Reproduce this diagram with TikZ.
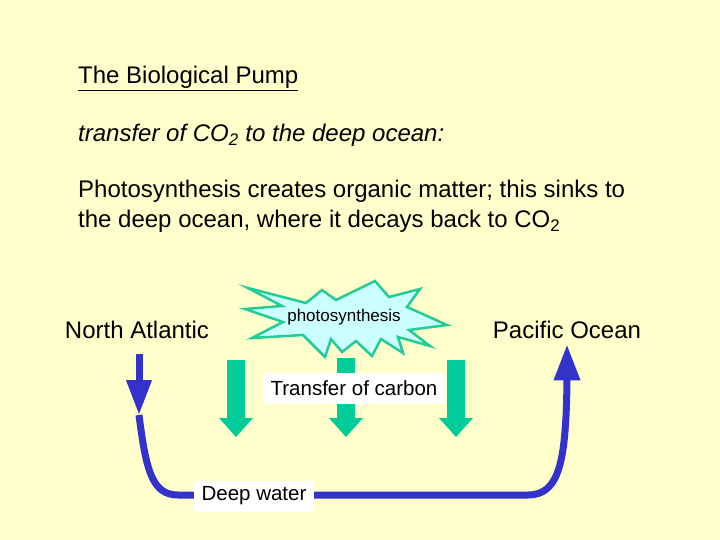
\documentclass[tikz,border=0pt]{standalone}
\usepackage{fontspec}
\setmainfont{Liberation Sans}
\usetikzlibrary{arrows.meta}
\definecolor{bg}{HTML}{FFFFCC}
\definecolor{tgreen}{HTML}{00CC99}
\definecolor{burstedge}{HTML}{22CC99}
\definecolor{burstfill}{HTML}{CCFFFF}
\definecolor{pumpblue}{HTML}{3333CC}
\tikzset{
  lab/.style={inner sep=0pt, font=\fontsize{24}{28}\selectfont},
  boxlab/.style={fill=white, inner xsep=8pt, inner ysep=0pt, minimum height=31pt, font=\fontsize{20.5}{24}\selectfont},
  pump/.style={draw=pumpblue, line width=7pt, line join=round},
  garrow/.style={fill=tgreen},
  burst/.style={draw=burstedge, line width=2.5pt, fill=burstfill, line join=miter},
  burstlab/.style={inner sep=0pt, font=\fontsize{17}{20}\selectfont}
}
\begin{document}
\begin{tikzpicture}[x=1pt,y=-1pt]
\fill[bg] (0,0) rectangle (720,540);
\useasboundingbox (0,0) rectangle (720,540);
% texts
\node[lab, anchor=base west] (title) at (78,84) {\underline{The Biological Pump}};
\node[lab, anchor=base west] (sub) at (78,142) {\itshape transfer of CO\textsubscript{2} to the deep ocean:};
\node[lab, anchor=base west] (l1) at (78,198) {Photosynthesis creates organic matter; this sinks to};
\node[lab, anchor=base west] (l2) at (78,228) {the deep ocean, where it decays back to CO\textsubscript{2}};
\node[lab, anchor=base] (na) at (137,338) {North Atlantic};
\node[lab, anchor=base] (po) at (567,338) {Pacific Ocean};
% starburst
\draw[burst] (248,288) -- (306,303) -- (322,290) -- (336,300) -- (375,281)
  -- (389,297) -- (420,289) -- (407,307) -- (447,325) -- (409,330)
  -- (430,346) -- (398,337) -- (403,353) -- (381,339) -- (372,356)
  -- (356,341) -- (342,352) -- (331,339) -- (325,357) -- (303,335)
  -- (252,338) -- (283,322) -- (245,309) -- (282,306) -- cycle;
\node[burstlab] (photo) at (344,317) {photosynthesis};
% green arrows
\foreach \cx/\top in {236/360, 346/358, 456/360}{
  \fill[garrow] (\cx-9,\top) -- (\cx+9,\top) -- (\cx+9,418) -- (\cx+17,418)
    -- (\cx,437) -- (\cx-17,418) -- (\cx-9,418) -- cycle;
}
\node[boxlab] (transfer) at (354,388) {Transfer of carbon};
% blue pump path
\coordinate (dn) at (139,415);
\draw[pump, -{Triangle[length=35pt,width=24pt]}, shorten <=16pt] (na.south -| dn) -- (dn);
\draw[pump, -{Triangle[length=36pt,width=25pt]}, shorten >=6pt]
  (dn) .. controls (146,470) and (152,495) .. (178,495) -- (528,495)
  .. controls (560,495) and (566,460) .. (567,380) -- (po.south);
\node[boxlab] (deep) at (254,496) {Deep water};
\end{tikzpicture}
\end{document}
